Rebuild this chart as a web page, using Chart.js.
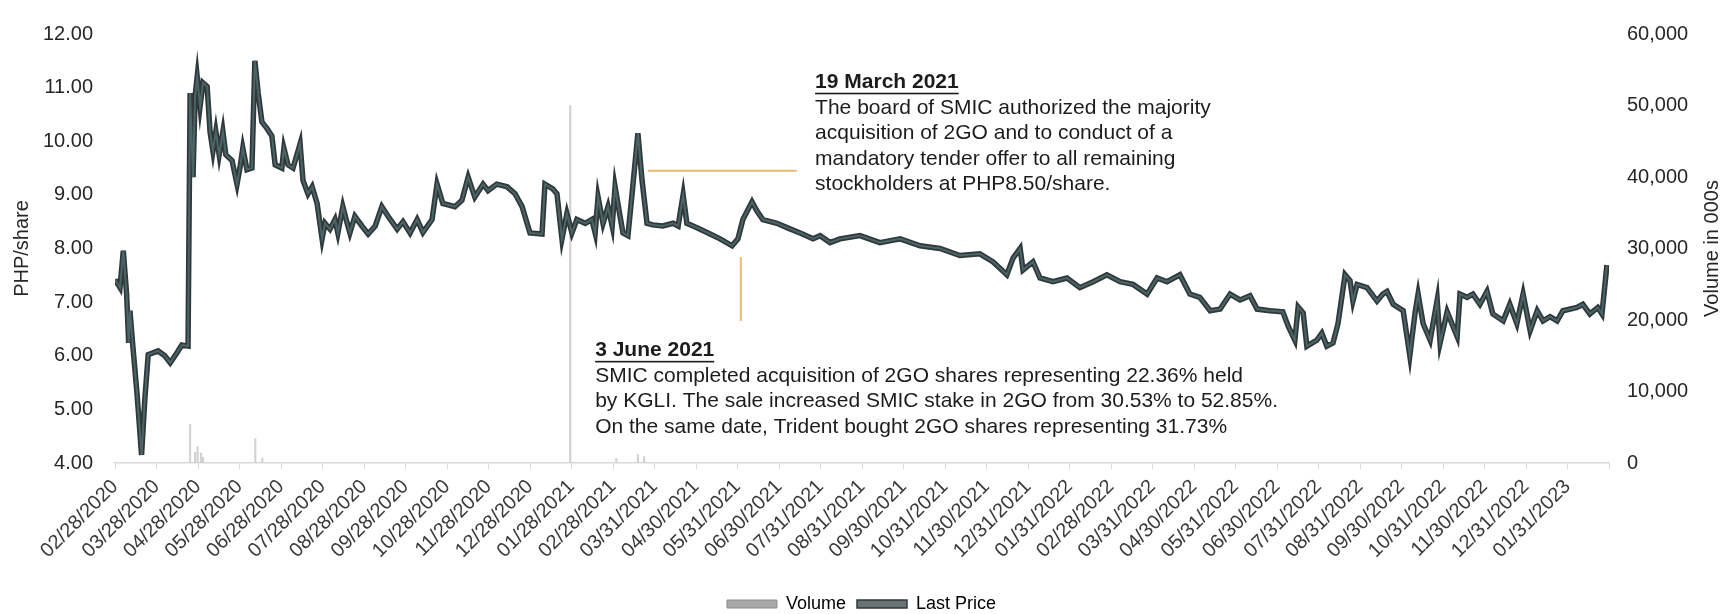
<!DOCTYPE html>
<html>
<head>
<meta charset="utf-8">
<title>2GO share price and volume</title>
<script src="https://cdn.jsdelivr.net/npm/chart.js@4.4.1/dist/chart.umd.min.js"></script>
<style>
  html, body { margin: 0; padding: 0; background: #fff; }
  #wrap { width: 1723px; height: 614px; position: relative; }
</style>
</head>
<body>
<div id="wrap"><canvas id="chart"></canvas></div>
<script>
// month tick labels (one slot per month on the x axis)
const monthLabels = [
  "02/28/2020", "03/28/2020", "04/28/2020", "05/28/2020", "06/28/2020", "07/28/2020",
  "08/28/2020", "09/28/2020", "10/28/2020", "11/28/2020", "12/28/2020", "01/28/2021",
  "02/28/2021", "03/31/2021", "04/30/2021", "05/31/2021", "06/30/2021", "07/31/2021",
  "08/31/2021", "09/30/2021", "10/31/2021", "11/30/2021", "12/31/2021", "01/31/2022",
  "02/28/2022", "03/31/2022", "04/30/2022", "05/31/2022", "06/30/2022", "07/31/2022",
  "08/31/2022", "09/30/2022", "10/31/2022", "11/30/2022", "12/31/2022", "01/31/2023"
];

// last price, position in months since 02/28/2020
const priceMonth = [
  0.00, 0.12, 0.20, 0.28, 0.33, 0.36, 0.43, 0.53, 0.64, 0.72,
  0.80, 1.04, 1.20, 1.33, 1.49, 1.61, 1.76, 1.81, 1.88, 1.93,
  1.98, 2.05, 2.12, 2.22, 2.29, 2.36, 2.43, 2.51, 2.60, 2.67,
  2.82, 2.94, 3.01, 3.08, 3.18, 3.30, 3.37, 3.45, 3.54, 3.66,
  3.78, 3.86, 4.02, 4.07, 4.17, 4.29, 4.46, 4.53, 4.65, 4.75,
  4.87, 4.99, 5.06, 5.18, 5.30, 5.37, 5.49, 5.57, 5.66, 5.78,
  5.95, 6.10, 6.27, 6.43, 6.58, 6.80, 6.94, 7.11, 7.28, 7.42,
  7.64, 7.76, 7.90, 8.19, 8.36, 8.51, 8.67, 8.87, 8.99, 9.20,
  9.45, 9.64, 9.81, 10.00, 10.29, 10.36, 10.55, 10.65, 10.77, 10.89,
  11.01, 11.13, 11.33, 11.49, 11.57, 11.64, 11.76, 11.88, 11.98, 12.05,
  12.17, 12.24, 12.36, 12.46, 12.60, 12.70, 12.82, 12.96, 13.20, 13.45,
  13.57, 13.69, 13.78, 13.93, 14.10, 14.34, 14.58, 14.87, 15.01, 15.13,
  15.35, 15.47, 15.61, 15.95, 16.22, 16.51, 16.82, 16.99, 17.23, 17.47,
  17.95, 18.43, 18.92, 19.40, 19.88, 20.36, 20.84, 21.16, 21.49, 21.64,
  21.81, 21.88, 22.12, 22.29, 22.60, 22.94, 23.25, 23.57, 23.90, 24.22,
  24.53, 24.87, 25.11, 25.35, 25.66, 25.90, 26.14, 26.39, 26.63, 26.87,
  27.11, 27.35, 27.52, 27.83, 28.14, 28.27, 28.43, 28.51, 28.63, 28.72,
  28.96, 29.08, 29.20, 29.35, 29.47, 29.64, 29.76, 29.83, 29.93, 30.17,
  30.41, 30.55, 30.65, 30.80, 31.04, 31.20, 31.33, 31.40, 31.52, 31.69,
  31.86, 31.93, 32.10, 32.24, 32.34, 32.41, 32.58, 32.72, 32.89, 33.06,
  33.20, 33.45, 33.61, 33.78, 33.93, 34.10, 34.27, 34.41, 34.58, 34.75,
  34.89, 35.23, 35.37, 35.54, 35.73, 35.83, 35.95
];
const priceValue = [
  7.42, 7.27, 7.96, 7.15, 6.24, 6.84, 6.18, 5.30, 4.15, 5.20,
  6.02, 6.09, 6.00, 5.87, 6.05, 6.20, 6.18, 10.90, 9.33, 10.84,
  11.20, 10.65, 11.09, 11.02, 10.18, 9.82, 10.18, 9.75, 10.18, 9.75,
  9.64, 9.20, 9.50, 9.87, 9.47, 9.50, 11.50, 10.90, 10.36, 10.24,
  10.10, 9.56, 9.50, 9.87, 9.56, 9.50, 9.95, 9.27, 9.02, 9.15,
  8.84, 8.18, 8.47, 8.36, 8.54, 8.29, 8.78, 8.54, 8.29, 8.60,
  8.42, 8.27, 8.42, 8.78, 8.60, 8.36, 8.50, 8.29, 8.54, 8.30,
  8.54, 9.20, 8.84, 8.78, 8.90, 9.33, 8.96, 9.20, 9.08, 9.20,
  9.15, 9.02, 8.78, 8.29, 8.27, 9.20, 9.11, 9.02, 8.18, 8.65,
  8.29, 8.54, 8.47, 8.54, 8.29, 8.96, 8.47, 8.78, 8.42, 9.15,
  8.60, 8.29, 8.24, 9.02, 10.15, 9.27, 8.47, 8.44, 8.42, 8.47,
  8.42, 9.00, 8.47, 8.42, 8.36, 8.27, 8.18, 8.05, 8.18, 8.54,
  8.87, 8.70, 8.54, 8.47, 8.38, 8.29, 8.18, 8.24, 8.11, 8.18,
  8.24, 8.11, 8.18, 8.05, 8.00, 7.87, 7.90, 7.75, 7.51, 7.82,
  8.00, 7.60, 7.75, 7.45, 7.38, 7.45, 7.27, 7.38, 7.51, 7.38,
  7.33, 7.15, 7.45, 7.38, 7.51, 7.15, 7.09, 6.84, 6.87, 7.15,
  7.04, 7.12, 6.87, 6.84, 6.82, 6.55, 6.29, 6.91, 6.80, 6.18,
  6.29, 6.42, 6.18, 6.24, 6.60, 7.51, 7.40, 7.02, 7.33, 7.27,
  7.02, 7.15, 7.20, 6.96, 6.84, 6.00, 6.82, 7.15, 6.60, 6.29,
  7.04, 6.24, 6.82, 6.55, 6.36, 7.15, 7.09, 7.15, 6.96, 7.20,
  6.78, 6.65, 6.96, 6.60, 7.15, 6.47, 6.84, 6.65, 6.73, 6.65,
  6.84, 6.90, 6.96, 6.78, 6.90, 6.78, 7.69
];

// volume in 000s (only the visible spikes)
const volumeMonth = [1.81, 1.93, 1.99, 2.07, 2.12, 3.38, 3.55, 10.97, 12.08, 12.60, 12.75];
const volumeValue = [5400, 1500, 2300, 1400, 800, 3400, 700, 50000, 600, 1200, 900];

// callouts: [x month, y price] of the title line
const notes = [
  {
    at: [16.87, 11.11],
    title: "19 March 2021",
    lines: [
      "The board of SMIC authorized the majority",
      "acquisition of 2GO and to conduct of a",
      "mandatory tender offer to all remaining",
      "stockholders at PHP8.50/share."
    ]
  },
  {
    at: [11.57, 6.11],
    title: "3 June 2021",
    lines: [
      "SMIC completed acquisition of 2GO shares representing 22.36% held",
      "by KGLI. The sale increased SMIC stake in 2GO from 30.53% to 52.85%.",
      "On the same date, Trident bought 2GO shares representing 31.73%"
    ]
  }
];
// leader lines [x0, y0, x1, y1] in month / price units
const leaders = [
  [12.84, 9.45, 16.43, 9.45],
  [15.08, 7.84, 15.08, 6.65]
];

const FONT = '"Liberation Sans", Arial, sans-serif';

const pricePoints = priceMonth.map((m, i) => ({ x: m, y: priceValue[i] }));
const volumePoints = volumeMonth.map((m, i) => ({ x: m, y: volumeValue[i] }));

const notesPlugin = {
  id: "notes",
  afterDatasetsDraw(chart) {
    const { ctx, chartArea, scales: { x, y } } = chart;
    ctx.save();
    ctx.strokeStyle = "#ecbb6c";
    ctx.lineWidth = 2;
    for (const l of leaders) {
      ctx.beginPath();
      ctx.moveTo(x.getPixelForValue(l[0]), y.getPixelForValue(l[1]));
      ctx.lineTo(x.getPixelForValue(l[2]), y.getPixelForValue(l[3]));
      ctx.stroke();
    }
    ctx.fillStyle = "#1c1c1c";
    ctx.textBaseline = "middle";
    ctx.textAlign = "left";
    for (const n of notes) {
      const px = x.getPixelForValue(n.at[0]);
      const py = y.getPixelForValue(n.at[1]);
      ctx.font = "bold 21px " + FONT;
      ctx.fillText(n.title, px, py);
      const w = ctx.measureText(n.title).width;
      ctx.fillRect(px, py + 11, w, 1.6);
      ctx.font = "21px " + FONT;
      n.lines.forEach((t, i) => ctx.fillText(t, px, py + 26 + 25.5 * i));
    }
    // right axis title reads bottom to top
    ctx.font = "20px " + FONT;
    ctx.fillStyle = "#262626";
    ctx.textAlign = "center";
    ctx.translate(chart.width - 11, (chartArea.top + chartArea.bottom) / 2);
    ctx.rotate(-Math.PI / 2);
    ctx.fillText("Volume in 000s", 0, 0);
    ctx.restore();
  }
};

new Chart(document.getElementById("chart").getContext("2d"), {
  type: "line",
  data: {
    datasets: [
      {
        type: "bar",
        label: "Volume",
        data: volumePoints,
        yAxisID: "y2",
        backgroundColor: "#d2d2d2",
        barThickness: 1.5,
        order: 3
      },
      {
        label: "Last Price",
        data: pricePoints,
        yAxisID: "y",
        borderColor: "#2f393b",
        backgroundColor: "#6a7273",
        borderWidth: 5.5,
        pointRadius: 0,
        tension: 0,
        order: 2
      },
      {
        // lighter core of the price line
        label: "_core",
        data: pricePoints,
        yAxisID: "y",
        borderColor: "#4d6466",
        borderWidth: 2,
        pointRadius: 0,
        tension: 0,
        order: 1
      }
    ]
  },
  options: {
    responsive: true,
    maintainAspectRatio: false,
    animation: false,
    layout: { padding: { top: 23, left: 0, right: 0, bottom: 0 } },
    plugins: {
      tooltip: { enabled: false },
      legend: {
        position: "bottom",
        maxHeight: 30,
        labels: {
          boxWidth: 50,
          boxHeight: 8,
          padding: 11,
          color: "#1c1c1c",
          font: { family: FONT, size: 18 },
          generateLabels: () => [
            { text: "Volume", fillStyle: "#a8a8a8", strokeStyle: "#8c8c8c", lineWidth: 1, datasetIndex: 0, hidden: false },
            { text: "Last Price", fillStyle: "#6a7273", strokeStyle: "#2f393b", lineWidth: 1.5, datasetIndex: 1, hidden: false }
          ]
        }
      }
    },
    scales: {
      x: {
        type: "linear",
        offset: false,
        min: 0,
        max: 36,
        afterBuildTicks: s => { s.ticks = monthLabels.map((_, i) => ({ value: i })).concat([{ value: 36 }]); },
        afterFit: s => { s.height = 121; s.paddingLeft = 0; s.paddingRight = 0; },
        grid: { display: true, offset: false, drawOnChartArea: false, drawTicks: true, tickLength: 6, color: "#d9d9d9" },
        border: { display: true, color: "#d9d9d9", width: 1.5 },
        ticks: {
          autoSkip: false,
          minRotation: 45,
          maxRotation: 45,
          padding: 6,
          color: "#3a3a3a",
          font: { family: FONT, size: 20 },
          callback: v => monthLabels[v] ?? ""
        }
      },
      y: {
        position: "left",
        min: 4,
        max: 12,
        afterFit: s => { s.width = 115; },
        grid: { display: false, drawTicks: false },
        border: { display: false },
        ticks: {
          stepSize: 1,
          padding: 22,
          color: "#262626",
          font: { family: FONT, size: 20 },
          callback: v => v.toFixed(2)
        },
        title: {
          display: true,
          text: "PHP/share",
          color: "#262626",
          padding: { top: 12, bottom: 0 },
          font: { family: FONT, size: 20, lineHeight: 1 }
        }
      },
      y2: {
        position: "right",
        min: 0,
        max: 60000,
        afterFit: s => { s.width = 114; },
        grid: { display: false, drawTicks: false },
        border: { display: false },
        ticks: {
          stepSize: 10000,
          padding: 18,
          color: "#262626",
          font: { family: FONT, size: 20 },
          callback: v => v.toLocaleString("en-US")
        }
      }
    }
  },
  plugins: [notesPlugin]
});
</script>
</body>
</html>
